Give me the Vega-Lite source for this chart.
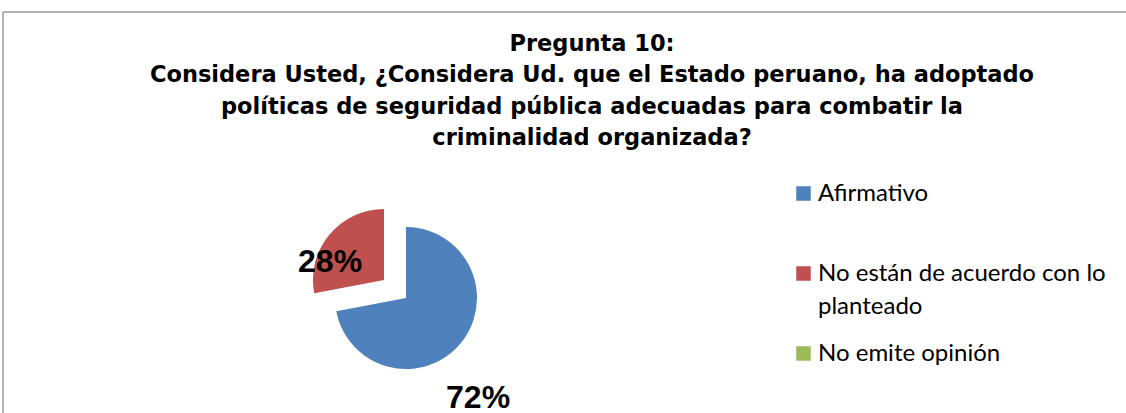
{
  "$schema": "https://vega.github.io/schema/vega-lite/v6.json",
  "width": 1123,
  "height": 401,
  "autosize": {"type": "none"},
  "padding": {"left": 3, "top": 12, "right": 0, "bottom": 0},
  "background": "white",
  "config": {
    "view": {"stroke": null},
    "style": {"guide-label": {"lineHeight": 33}}
  },
  "title": {
    "text": [
      "Pregunta 10:",
      "Considera Usted, ¿Considera Ud. que el Estado peruano, ha adoptado",
      "políticas de seguridad pública adecuadas para combatir la",
      "criminalidad organizada?"
    ],
    "orient": "top",
    "anchor": "middle",
    "frame": "group",
    "dx": 27.5,
    "offset": -138,
    "font": "DejaVu Sans",
    "fontSize": 22.5,
    "fontWeight": "bold",
    "lineHeight": 31.5,
    "color": "#000000"
  },
  "data": {
    "values": [
      {"categoria": "Afirmativo", "valor": 72, "etiqueta": "72%"},
      {"categoria": "No están de acuerdo con lo planteado", "valor": 28, "etiqueta": "28%"},
      {"categoria": "No emite opinión", "valor": 0, "etiqueta": "0%"}
    ]
  },
  "layer": [
    {
      "mark": {"type": "rule", "stroke": "#A6A6A6", "strokeWidth": 1},
      "encoding": {"y": {"value": 0}}
    },
    {
      "mark": {"type": "rule", "stroke": "#A6A6A6", "strokeWidth": 1},
      "encoding": {"x": {"value": 0}}
    },
    {
      "mark": {"type": "arc", "radius": 71, "x": 403, "y": 286},
      "encoding": {
        "theta": {"field": "valor", "type": "quantitative", "stack": true},
        "color": {
          "field": "categoria",
          "type": "nominal",
          "sort": ["Afirmativo", "No están de acuerdo con lo planteado", "No emite opinión"],
          "scale": {
            "domain": ["Afirmativo", "No están de acuerdo con lo planteado", "No emite opinión"],
            "range": ["#4F81BD", "#C0504D", "#9BBB59"]
          },
          "legend": {
            "orient": "none",
            "legendX": 788.5,
            "legendY": 169.5,
            "title": null,
            "padding": 0,
            "symbolType": "square",
            "symbolSize": 210,
            "symbolStrokeWidth": 0,
            "labelFont": "Lato",
            "labelFontSize": 24,
            "labelColor": "#000000",
            "labelOffset": 2.5,
            "labelLimit": 400,
            "rowPadding": 23,
            "gridAlign": "all",
            "labelExpr": "datum.label == 'No están de acuerdo con lo planteado' ? ['No están de acuerdo con lo', 'planteado'] : datum.label"
          }
        },
        "opacity": {
          "condition": {"test": "datum.categoria == 'Afirmativo'", "value": 1},
          "value": 0
        }
      }
    },
    {
      "mark": {"type": "arc", "radius": 71, "x": 403, "y": 286, "xOffset": -22, "yOffset": -18},
      "encoding": {
        "theta": {"field": "valor", "type": "quantitative", "stack": true},
        "color": {
          "field": "categoria",
          "type": "nominal",
          "sort": ["Afirmativo", "No están de acuerdo con lo planteado", "No emite opinión"]
        },
        "opacity": {
          "condition": {"test": "datum.categoria == 'No están de acuerdo con lo planteado'", "value": 1},
          "value": 0
        }
      }
    },
    {
      "mark": {"type": "text", "radius": 100, "x": 403, "y": 286, "dx": -5, "dy": 36, "font": "Liberation Sans", "fontSize": 32, "fontWeight": "bold", "align": "center", "baseline": "middle", "color": "#000000"},
      "encoding": {
        "theta": {"field": "valor", "type": "quantitative", "stack": true},
        "order": {"field": "categoria", "sort": "ascending"},
        "text": {
          "condition": {"test": "datum.categoria == 'Afirmativo'", "field": "etiqueta"},
          "value": ""
        }
      }
    },
    {
      "mark": {"type": "text", "radius": 70, "x": 403, "y": 286, "dx": -22, "dy": 9, "font": "Liberation Sans", "fontSize": 32, "fontWeight": "bold", "align": "center", "baseline": "middle", "color": "#000000"},
      "encoding": {
        "theta": {"field": "valor", "type": "quantitative", "stack": true},
        "order": {"field": "categoria", "sort": "ascending"},
        "text": {
          "condition": {"test": "datum.categoria == 'No están de acuerdo con lo planteado'", "field": "etiqueta"},
          "value": ""
        }
      }
    }
  ]
}
